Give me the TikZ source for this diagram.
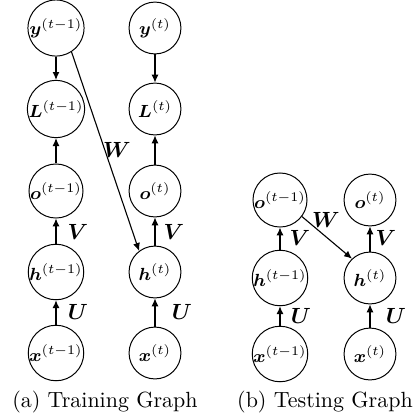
\documentclass[tikz,border=0pt]{standalone}
\usepackage{bm}
\usetikzlibrary{arrows.meta}
\begin{document}
\begin{tikzpicture}[x=0.455pt,y=-0.455pt,
  unit/.style={draw,circle,line width=0.45pt,minimum size=23.6pt,inner sep=0pt,font=\fontsize{8.5}{10}\selectfont},
  edge/.style={line width=0.5pt,-{Latex[length=3.6pt,width=3.2pt]}},
  wt/.style={font=\normalsize},
  captext/.style={font=\normalsize}]
\useasboundingbox (0,0) rectangle (417,420);

% (a) training graph, teacher forcing
\node[unit] (ya) at (56,28)  {$\bm{y}^{(t-1)}$};
\node[unit] (La) at (56,109) {$\bm{L}^{(t-1)}$};
\node[unit] (oa) at (56,191) {$\bm{o}^{(t-1)}$};
\node[unit] (ha) at (56,272) {$\bm{h}^{(t-1)}$};
\node[unit] (xa) at (56,353) {$\bm{x}^{(t-1)}$};
\node[unit] (yb) at (155,28)  {$\bm{y}^{(t)}$};
\node[unit] (Lb) at (155,109) {$\bm{L}^{(t)}$};
\node[unit] (ob) at (155,191) {$\bm{o}^{(t)}$};
\node[unit] (hb) at (155,272) {$\bm{h}^{(t)}$};
\node[unit] (xb) at (155,353) {$\bm{x}^{(t)}$};

\draw[edge] (ya) -- (La);
\draw[edge] (oa) -- (La);
\draw[edge] (ha) -- (oa);
\draw[edge] (xa) -- (ha);
\draw[edge] (yb) -- (Lb);
\draw[edge] (ob) -- (Lb);
\draw[edge] (hb) -- (ob);
\draw[edge] (xb) -- (hb);
\draw[edge] (ya.-57) -- (hb.127);

\node[wt] (wa) at (117,150) {$\bm{W}$};
\node[wt] (va) at (78,232)  {$\bm{V}$};
\node[wt] (vb) at (174,232) {$\bm{V}$};
\node[wt] (ua) at (78,312)  {$\bm{U}$};
\node[wt] (ub) at (182,312) {$\bm{U}$};

\node[captext] (capa) at (105,402) {(a) Training Graph};

% (b) testing graph, output fed back
\node[unit] (oc) at (280,200) {$\bm{o}^{(t-1)}$};
\node[unit] (hc) at (280,278) {$\bm{h}^{(t-1)}$};
\node[unit] (xc) at (280,354) {$\bm{x}^{(t-1)}$};
\node[unit] (od) at (370,200) {$\bm{o}^{(t)}$};
\node[unit] (hd) at (370,278) {$\bm{h}^{(t)}$};
\node[unit] (xd) at (370,354) {$\bm{x}^{(t)}$};

\draw[edge] (hc) -- (oc);
\draw[edge] (xc) -- (hc);
\draw[edge] (hd) -- (od);
\draw[edge] (xd) -- (hd);
\draw[edge] (oc.-37) -- (hd.133);

\node[wt] (wc) at (326,220) {$\bm{W}$};
\node[wt] (vc) at (300,238) {$\bm{V}$};
\node[wt] (vd) at (386,238) {$\bm{V}$};
\node[wt] (uc) at (301,316) {$\bm{U}$};
\node[wt] (ud) at (396,316) {$\bm{U}$};

\node[captext] (capb) at (325,402) {(b) Testing Graph};
\end{tikzpicture}
\end{document}
